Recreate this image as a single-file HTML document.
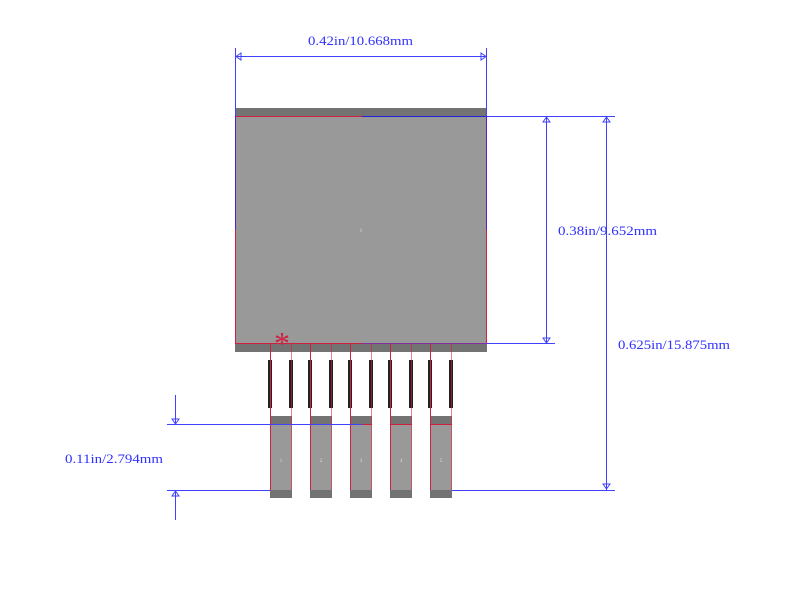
<!DOCTYPE html>
<html><head><meta charset="utf-8"><style>
html,body{margin:0;padding:0;background:#fff;width:800px;height:610px;overflow:hidden}
text{font-family:"Liberation Serif","DejaVu Serif",serif}
</style></head><body>
<svg width="800" height="610" viewBox="0 0 800 610" xmlns="http://www.w3.org/2000/svg">
<rect x="235" y="108" width="252" height="244" fill="#999"/>
<rect x="235" y="108" width="252" height="8" fill="#737373"/>
<rect x="235" y="344" width="252" height="8" fill="#737373"/>
<line x1="235.5" y1="116.5" x2="362" y2="116.5" stroke="#d02040" stroke-width="1"/>
<line x1="362" y1="116.5" x2="487" y2="116.5" stroke="#2020e0" stroke-width="1"/>
<line x1="235.5" y1="116" x2="235.5" y2="230" stroke="#5020c0" stroke-width="1"/>
<line x1="235.5" y1="230" x2="235.5" y2="344" stroke="#d02040" stroke-width="1"/>
<line x1="486.5" y1="116" x2="486.5" y2="230" stroke="#5020d0" stroke-width="1"/>
<line x1="486.5" y1="230" x2="486.5" y2="344" stroke="#d02040" stroke-width="1"/>
<line x1="235" y1="343.5" x2="362" y2="343.5" stroke="#d02040" stroke-width="1"/>
<line x1="362" y1="343.5" x2="487" y2="343.5" stroke="#8030a0" stroke-width="1"/>
<text x="361" y="232" font-size="5" fill="#ccc" text-anchor="middle">6</text>
<g>
<rect x="270" y="416" width="22" height="82" fill="#999"/><rect x="270" y="416" width="22" height="8" fill="#737373"/><rect x="270" y="490" width="22" height="8" fill="#737373"/>
<rect x="310" y="416" width="22" height="82" fill="#999"/><rect x="310" y="416" width="22" height="8" fill="#737373"/><rect x="310" y="490" width="22" height="8" fill="#737373"/>
<rect x="350" y="416" width="22" height="82" fill="#999"/><rect x="350" y="416" width="22" height="8" fill="#737373"/><rect x="350" y="490" width="22" height="8" fill="#737373"/>
<rect x="390" y="416" width="22" height="82" fill="#999"/><rect x="390" y="416" width="22" height="8" fill="#737373"/><rect x="390" y="490" width="22" height="8" fill="#737373"/>
<rect x="430" y="416" width="22" height="82" fill="#999"/><rect x="430" y="416" width="22" height="8" fill="#737373"/><rect x="430" y="490" width="22" height="8" fill="#737373"/>
</g>
<g fill="#222">
<rect x="268" y="360" width="4" height="48"/><rect x="289" y="360" width="4" height="48"/>
<rect x="308" y="360" width="4" height="48"/><rect x="329" y="360" width="4" height="48"/>
<rect x="348" y="360" width="4" height="48"/><rect x="369" y="360" width="4" height="48"/>
<rect x="388" y="360" width="4" height="48"/><rect x="409" y="360" width="4" height="48"/>
<rect x="428" y="360" width="4" height="48"/><rect x="449" y="360" width="4" height="48"/>
</g>
<g stroke="#d02040" stroke-width="1" fill="none">
<path d="M270.5 344V490M310.5 344V490M350.5 344V490M390.5 344V490M430.5 344V490"/>
<path d="M291.5 344V490M331.5 344V490M371.5 344V490M411.5 344V490M451.5 344V490" stroke-opacity="0.55"/>
<path d="M362 424.5H372M390 424.5H412M430 424.5H452"/>
</g>
<text x="281" y="462" font-size="5" fill="#ddd" text-anchor="middle">1</text>
<text x="321" y="462" font-size="5" fill="#ddd" text-anchor="middle">2</text>
<text x="361" y="462" font-size="5" fill="#ddd" text-anchor="middle">3</text>
<text x="401" y="462" font-size="5" fill="#ddd" text-anchor="middle">4</text>
<text x="441" y="462" font-size="5" fill="#ddd" text-anchor="middle">5</text>
<text x="282" y="354" font-size="32" fill="#d02040" text-anchor="middle">*</text>
<g stroke="#4040ff" stroke-width="1" fill="none">
<path d="M235.5 48V116M486.5 48V116M235 56.5H487"/>
<path d="M241 53L236 56.5L241 60Z M481 53L486 56.5L481 60Z"/>
<path d="M487 116.5H615M487 343.5H555M452 490.5H615M546.5 116V344M606.5 116V490"/>
<path d="M543 122L546.5 117L550 122Z M543 338L546.5 343L550 338Z M603 122L606.5 117L610 122Z M603 484L606.5 489L610 484Z"/>
<path d="M167 424.5H362M167 490.5H270M175.5 395V424M175.5 490V520"/>
<path d="M172 419L175.5 424L179 419Z M172 496L175.5 491L179 496Z"/>
</g>
<g fill="#3030ff" font-size="13">
<text x="308" y="45" textLength="105" lengthAdjust="spacingAndGlyphs">0.42in/10.668mm</text>
<text x="558" y="235" textLength="99" lengthAdjust="spacingAndGlyphs">0.38in/9.652mm</text>
<text x="618" y="349" textLength="112" lengthAdjust="spacingAndGlyphs">0.625in/15.875mm</text>
<text x="65" y="463" textLength="98" lengthAdjust="spacingAndGlyphs">0.11in/2.794mm</text>
</g>
</svg>
</body></html>
